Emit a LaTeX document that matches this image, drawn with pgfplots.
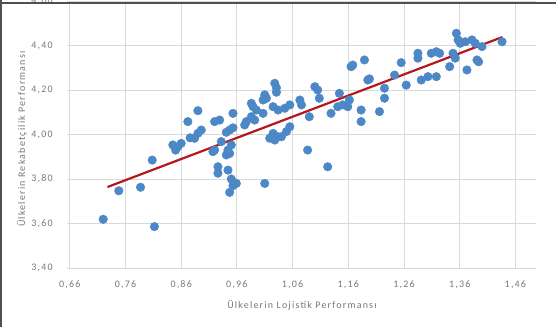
\documentclass[border=0pt]{standalone}
\usepackage{pgfplots}
\pgfplotsset{compat=1.18}
\usepackage{fontspec}
\setmainfont{Carlito}
\newfontfamily\spaced[LetterSpace=12]{Carlito}
\definecolor{dotblue}{RGB}{76,135,198}
\definecolor{trend}{RGB}{180,24,28}
\definecolor{gridc}{RGB}{217,217,217}
\definecolor{labc}{RGB}{120,120,120}
\definecolor{framec}{RGB}{80,80,80}
\begin{document}
\begin{tikzpicture}[x=1pt,y=1pt]
\useasboundingbox (0,0) rectangle (556,327);
\clip (0,0) rectangle (556,327);
\begin{axis}[
  at={(67pt,59pt)}, anchor=south west,
  scale only axis, width=469pt, height=267pt,
  xmin=0.655, xmax=1.497, ymin=3.4, ymax=4.6,
  xtick={0.66,0.76,0.86,0.96,1.06,1.16,1.26,1.36,1.46},
  xticklabels={0{,}66,0{,}76,0{,}86,0{,}96,1{,}06,1{,}16,1{,}26,1{,}36,1{,}46},
  ytick={3.4,3.6,3.8,4.0,4.2,4.4,4.6},
  yticklabels={3{,}40,3{,}60,3{,}80,4{,}00,4{,}20,4{,}40,4{,}60},
  grid=major, major grid style={draw=gridc, line width=0.8pt},
  axis x line*=bottom, axis y line*=left,
  x axis line style={draw=gridc, line width=0.8pt, -},
  y axis line style={draw=none},
  major tick length=0pt,
  tick label style={font=\fontsize{10}{11}\selectfont\spaced, text=labc},
  xticklabel style={anchor=center, yshift=-17pt},
  yticklabel style={anchor=center, xshift=-25pt},
  xlabel={Ülkelerin Lojistik Performansı},
  ylabel={Ülkelerin Rekabetçilik Performansı},
  label style={font=\fontsize{10}{11}\selectfont\spaced, text=labc},
  xlabel style={at={(axis description cs:0.501,-0.139)}, anchor=center},
  ylabel style={at={(axis description cs:-0.096,0.483)}, anchor=center, rotate=0},
  clip=false,
]
\addplot[only marks, mark=*, mark size=4.3pt, mark options={draw=dotblue, fill=dotblue}] coordinates {
(0.720,3.619) (0.748,3.747) (0.787,3.763) (0.812,3.586) (0.808,3.885)
(0.845,3.953) (0.854,3.945) (0.860,3.960) (0.850,3.930) (0.872,4.058)
(0.890,4.107) (0.896,4.020) (0.884,3.983) (0.890,4.005) (0.876,3.985)
(0.920,4.058) (0.929,4.065) (0.953,4.095) (0.947,4.020) (0.941,4.010)
(0.953,4.030) (0.932,3.968) (0.950,3.953) (0.944,3.930) (0.920,3.930)
(0.941,3.908) (0.947,3.915) (0.926,3.855) (0.926,3.826) (0.944,3.840)
(0.950,3.800) (0.953,3.770) (0.947,3.740) (0.959,3.780) (1.010,3.780)
(0.917,3.923) (0.977,4.058) (0.986,4.080) (0.992,4.065) (0.974,4.043)
(0.986,4.140) (0.989,4.125) (0.995,4.110) (1.010,4.178) (1.013,4.163)
(1.028,4.230) (1.031,4.210) (1.025,4.125) (1.034,4.110) (1.019,3.983)
(1.028,3.975) (1.034,3.990) (1.007,4.095) (1.046,4.118) (1.055,4.133)
(1.073,4.155) (1.076,4.133) (1.100,4.215) (1.105,4.200) (1.108,4.163)
(1.090,4.080) (1.055,4.035) (1.049,4.013) (1.040,3.990) (1.025,4.005)
(1.087,3.930) (1.123,3.855) (1.129,4.095) (1.144,4.185) (1.150,4.133)
(1.159,4.125) (1.162,4.155) (1.141,4.125) (1.168,4.312) (1.165,4.305)
(1.189,4.335) (1.183,4.110) (1.183,4.058) (1.195,4.245) (1.198,4.250)
(1.225,4.208) (1.225,4.163) (1.216,4.103) (1.243,4.267) (1.255,4.323)
(1.264,4.222) (1.285,4.365) (1.285,4.343) (1.291,4.245) (1.303,4.260)
(1.318,4.260) (1.309,4.365) (1.318,4.372) (1.324,4.365) (1.342,4.305)
(1.348,4.365) (1.354,4.455) (1.357,4.425) (1.361,4.410) (1.370,4.417)
(1.382,4.425) (1.388,4.410) (1.373,4.290) (1.391,4.335) (1.394,4.327)
(1.436,4.417) (1.352,4.343) (1.400,4.395) (1.007,4.155) (1.031,4.190)
};
\addplot[draw=trend, line width=2.2pt] coordinates {(0.7277,3.764) (1.4367,4.438)};
\end{axis}
\draw[framec, line width=1.6pt] (0,324) -- (556,324);
\draw[framec, line width=1.6pt] (1.2,0) -- (1.2,327);
\end{tikzpicture}
\end{document}
